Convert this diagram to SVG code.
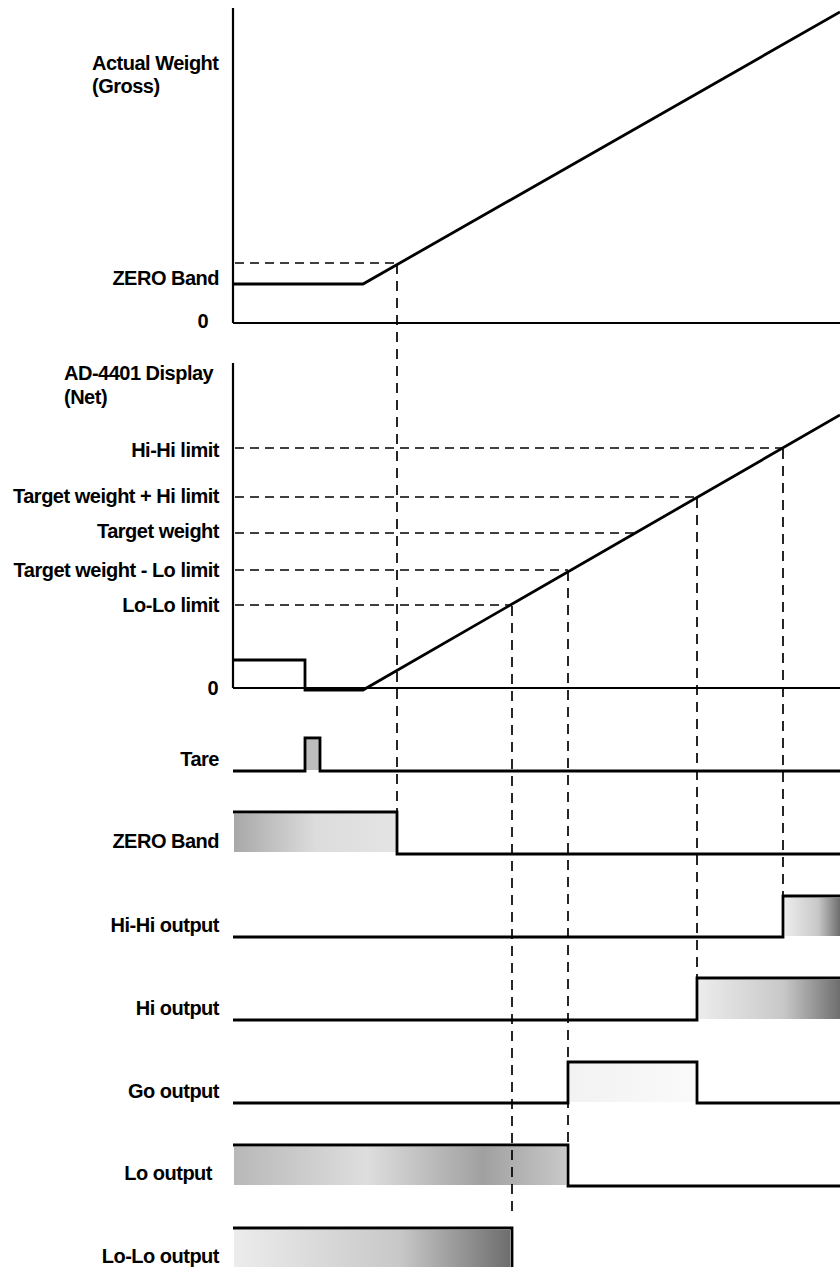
<svg xmlns="http://www.w3.org/2000/svg" width="840" height="1267" viewBox="0 0 840 1267">
<style>
.lbl{font-family:"Liberation Sans",Arial,sans-serif;font-weight:bold;font-size:20px;fill:#000;letter-spacing:-0.5px}
.r{text-anchor:end}
.ax{stroke:#000;stroke-width:2.2;fill:none}
.sig{stroke:#000;stroke-width:2.8;fill:none;stroke-linejoin:miter}
.dh{stroke:#000;stroke-width:1.7;stroke-dasharray:9 6;fill:none}
.dv{stroke:#000;stroke-width:1.7;stroke-dasharray:10 7;fill:none}
</style>
<defs>
<linearGradient id="gL" x1="0" x2="1" y1="0" y2="0"><stop offset="0" stop-color="#a8a8a8"/><stop offset="0.5" stop-color="#dcdcdc"/><stop offset="1" stop-color="#e4e4e4"/></linearGradient>
<linearGradient id="gR" x1="0" x2="1" y1="0" y2="0"><stop offset="0" stop-color="#ececec"/><stop offset="0.6" stop-color="#c8c8c8"/><stop offset="1" stop-color="#6e6e6e"/></linearGradient>
<linearGradient id="gM" x1="0" x2="1" y1="0" y2="0"><stop offset="0" stop-color="#b8b8b8"/><stop offset="0.4" stop-color="#dedede"/><stop offset="0.75" stop-color="#a0a0a0"/><stop offset="1" stop-color="#c8c8c8"/></linearGradient>
<linearGradient id="gG" x1="0" x2="1" y1="0" y2="0"><stop offset="0" stop-color="#f2f2f2"/><stop offset="1" stop-color="#fafafa"/></linearGradient>
</defs>
<rect width="840" height="1267" fill="#fff"/>

<g id="fills">
<rect x="306" y="740" width="13" height="30" fill="#bdbdbd"/>
<rect x="234" y="814" width="162" height="38" fill="url(#gL)"/>
<rect x="785" y="898" width="55" height="38" fill="url(#gR)"/>
<rect x="699" y="980" width="141" height="39" fill="url(#gR)"/>
<rect x="570" y="1064" width="126" height="38" fill="url(#gG)"/>
<rect x="234" y="1147" width="332" height="38" fill="url(#gM)"/>
<rect x="234" y="1230" width="276" height="37" fill="url(#gR)"/>
</g>

<g id="axes">
<line class="ax" x1="233" y1="8" x2="233" y2="323"/>
<line class="ax" x1="233" y1="323" x2="840" y2="323"/>
<line class="ax" x1="233" y1="363" x2="233" y2="688"/>
<line class="ax" x1="233" y1="688" x2="840" y2="688"/>
</g>

<g id="connectors">
<line class="dh" x1="235" y1="263" x2="397" y2="263"/>
<line class="dh" x1="235" y1="448" x2="783" y2="448"/>
<line class="dh" x1="235" y1="497" x2="697" y2="497"/>
<line class="dh" x1="235" y1="533" x2="636" y2="533"/>
<line class="dh" x1="235" y1="570" x2="568" y2="570"/>
<line class="dh" x1="235" y1="605" x2="512" y2="605"/>
<line class="dv" x1="397" y1="264" x2="397" y2="812"/>
<line class="dv" x1="512" y1="606" x2="512" y2="1215"/>
<line class="dv" x1="568" y1="571" x2="568" y2="1145"/>
<line class="dv" x1="697" y1="498" x2="697" y2="978"/>
<line class="dv" x1="783" y1="449" x2="783" y2="896"/>
</g>

<g id="gross">
<polyline class="sig" points="233,284 363,284 840,12"/>
</g>
<g id="net">
<polyline class="sig" points="233,660 305,660 305,690 363,690 840,415"/>
</g>
<g id="tare"><polyline class="sig" points="233,771 305,771 305,738 320,738 320,771 840,771"/></g>
<g id="zero-band"><polyline class="sig" points="233,812 397,812 397,854 840,854"/></g>
<g id="hihi-output"><polyline class="sig" points="233,937 783,937 783,896 840,896"/></g>
<g id="hi-output"><polyline class="sig" points="233,1020 697,1020 697,978 840,978"/></g>
<g id="go-output"><polyline class="sig" points="233,1103 568,1103 568,1062 697,1062 697,1103 840,1103"/></g>
<g id="lo-output"><polyline class="sig" points="233,1145 568,1145 568,1186 840,1186"/></g>
<g id="lolo-output"><polyline class="sig" points="233,1228 512,1228 512,1267"/></g>

<g id="labels">
<text class="lbl" x="92" y="70">Actual Weight</text>
<text class="lbl" x="92" y="93">(Gross)</text>
<text class="lbl r" x="219" y="285">ZERO Band</text>
<text class="lbl r" x="208" y="328">0</text>
<text class="lbl" x="64" y="380">AD-4401 Display</text>
<text class="lbl" x="64" y="404">(Net)</text>
<text class="lbl r" x="219" y="457">Hi-Hi limit</text>
<text class="lbl r" x="219" y="503">Target weight + Hi limit</text>
<text class="lbl r" x="219" y="538">Target weight</text>
<text class="lbl r" x="219" y="577">Target weight - Lo limit</text>
<text class="lbl r" x="219" y="612">Lo-Lo limit</text>
<text class="lbl r" x="218" y="695">0</text>
<text class="lbl r" x="219" y="766">Tare</text>
<text class="lbl r" x="219" y="848">ZERO Band</text>
<text class="lbl r" x="219" y="932">Hi-Hi output</text>
<text class="lbl r" x="219" y="1015">Hi output</text>
<text class="lbl r" x="219" y="1098">Go output</text>
<text class="lbl r" x="212" y="1180">Lo output</text>
<text class="lbl r" x="219" y="1263">Lo-Lo output</text>
</g>
</svg>
